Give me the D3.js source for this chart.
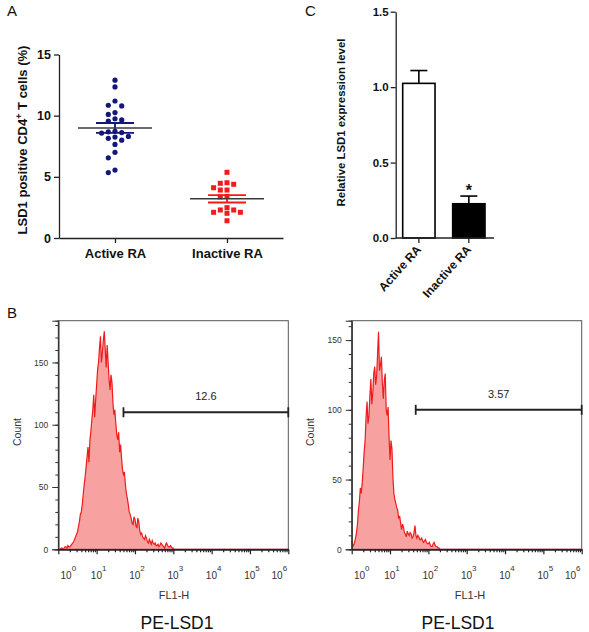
<!DOCTYPE html>
<html><head><meta charset="utf-8">
<script src="https://cdn.jsdelivr.net/npm/d3@7"></script>
<style>
body{margin:0;background:#fff}
svg{display:block}
text{font-family:"Liberation Sans",Arial,sans-serif}
</style>
</head><body>
<svg id="chart" width="589" height="632"></svg>
<script>
// ---------- Panel A data ----------
const groups = ["Active RA", "Inactive RA"];
const activeValues = [12.9, 12.35, 11.2, 10.85, 10.8, 10.25, 10.1, 9.75, 9.65, 9.55, 8.72, 8.68, 8.62, 8.58, 8.3, 8.25, 8.15, 8.0, 7.65, 7.0, 6.55, 5.55, 5.35];
const inactiveValues = [5.37, 4.52, 4.47, 4.39, 4.11, 3.92, 3.92, 3.4, 3.36, 2.48, 2.29, 2.29, 2.1, 2.1, 2.02, 1.41];
const groupMeans = [9.0, 3.2];
const groupSems = [0.4, 0.3];
const aTicks = [0, 5, 10, 15];

// ---------- Panel C data ----------
const barValues = [1.025, 0.227];
const barErrors = [0.085, 0.051];
const cTicks = [0, 0.5, 1.0, 1.5];

// ---------- Panel B data (counts per 0.025-decade channel, from 10^0) ----------
const histLeftCounts = [0,0,0,1,1,0,1,2,2,1,3,2,2,3,4,5,6,8,10,12,14,18,22,28,30,36,44,52,58,66,74,82,70,88,95,104,112,124,106,120,132,144,150,162,171,150,158,168,175,160,146,164,150,136,128,140,134,118,108,112,101,92,88,94,78,84,73,64,60,62,52,45,41,36,30,28,25,21,20,26,24,19,17,25,22,15,12,13,10,9,8,11,9,6,5,8,6,4,7,5,4,5,3,3,4,2,3,5,4,3,2,1,4,5,3,2,2,3,2,1,1,0,0,0,0,0,0,0,0];
const histRightCounts = [6,2,3,5,8,12,18,28,34,44,40,48,58,70,78,95,106,90,96,110,122,104,112,126,131,118,124,140,156,128,132,138,119,108,121,126,100,96,102,80,64,78,72,52,40,36,33,30,28,22,24,19,14,18,16,12,11,9,13,11,10,12,11,8,9,12,17,10,8,10,9,7,7,8,6,5,6,7,5,4,4,5,3,2,2,4,5,3,2,2,1,1,0];
const histLabels = ["12.6", "3.57"];
const gateStartDecade = [1.7, 1.67];
const gateLevel = [110, 100];
const countMajorTicks = [0, 50, 100, 150];
const logMajorTicks = [1e0, 1e1, 1e2, 1e3, 1e4, 1e5, 1e6];
const channelWidth = 0.025;

const svg = d3.select("#chart");

// ================= Panel A =================
const xA = d3.scalePoint().domain(groups).range([59, 283]).padding(0.5);
const yA = d3.scaleLinear().domain([0, 15]).range([238, 54.5]);

const gA = svg.append("g");
const axA = gA.append("g").attr("transform", "translate(59,0)")
  .call(d3.axisLeft(yA).tickValues(aTicks).tickSize(5).tickSizeOuter(0).tickPadding(3));
const axAx = gA.append("g").attr("transform", "translate(0,238)")
  .call(d3.axisBottom(xA).tickSize(5).tickSizeOuter(0).tickPadding(6));
[axA, axAx].forEach(a => {
  a.selectAll("path,line").attr("stroke", "#222").attr("stroke-width", 1.3);
  a.selectAll("text").attr("fill", "#111").attr("font-weight", "bold").attr("font-size", 13);
});
axA.selectAll("text").attr("font-size", 12.5);

// y title
gA.append("text").attr("transform", "translate(27,140) rotate(-90)")
  .attr("text-anchor", "middle").attr("font-weight", "bold").attr("font-size", 13).attr("fill", "#111")
  .call(t => {
    t.append("tspan").text("LSD1 positive CD4");
    t.append("tspan").attr("dy", -5).attr("font-size", 9).text("+");
    t.append("tspan").attr("dy", 5).text(" T cells (%)");
  });

function swarm(values, cx, gap, dyMin) {
  const placed = [];
  values.map(v => v).sort((a, b) => b - a).forEach(v => {
    const py = yA(v);
    for (let k = 0; k < 20; k++) {
      const offs = k === 0 ? [0] : [-k * gap, k * gap];
      let done = false;
      for (const o of offs) {
        const hit = placed.some(p => Math.abs(p.x - (cx + o)) < gap * 0.9 && Math.abs(p.y - py) < dyMin);
        if (!hit) { placed.push({x: cx + o, y: py, v}); done = true; break; }
      }
      if (done) break;
    }
  });
  return placed;
}

const dotColors = ["#14177a", "#f21a1a"];
const activePts = swarm(activeValues, xA(groups[0]), 6.7, 5.6);
const inactivePts = swarm(inactiveValues, xA(groups[1]), 6.7, 5.5);

gA.append("g").selectAll("circle").data(activePts).join("circle")
  .attr("cx", d => d.x).attr("cy", d => d.y).attr("r", 2.6).attr("fill", dotColors[0]);
gA.append("g").selectAll("rect").data(inactivePts).join("rect")
  .attr("x", d => d.x - 2.5).attr("y", d => d.y - 2.5).attr("width", 5).attr("height", 5).attr("fill", dotColors[1]);

groups.forEach((g, i) => {
  const cx = xA(g);
  const m = groupMeans[i], s = groupSems[i];
  const eg = gA.append("g");
  eg.append("line").attr("x1", cx).attr("x2", cx).attr("y1", yA(m + s)).attr("y2", yA(m - s))
    .attr("stroke", dotColors[i]).attr("stroke-width", 1.8);
  [m + s, m - s].forEach(v => eg.append("line").attr("x1", cx - 19).attr("x2", cx + 19)
    .attr("y1", yA(v)).attr("y2", yA(v)).attr("stroke", dotColors[i]).attr("stroke-width", 1.8));
  eg.append("line").attr("x1", cx - 37).attr("x2", cx + 37).attr("y1", yA(m)).attr("y2", yA(m))
    .attr("stroke", "#3a3a3a").attr("stroke-width", 1.5);
});

// ================= Panel C =================
const xC = d3.scaleBand().domain(groups).range([395.7, 492]).paddingInner(0.353).paddingOuter(0.14);
const yC = d3.scaleLinear().domain([0, 1.5]).range([238, 11.7]);
const gC = svg.append("g");

gC.selectAll("rect.bar").data(groups).join("rect").attr("class", "bar")
  .attr("x", d => xC(d)).attr("width", xC.bandwidth())
  .attr("y", (d, i) => yC(barValues[i])).attr("height", (d, i) => yC(0) - yC(barValues[i]))
  .attr("fill", (d, i) => i === 0 ? "#fff" : "#000").attr("stroke", "#000").attr("stroke-width", 1.6);

groups.forEach((g, i) => {
  const cx = xC(g) + xC.bandwidth() / 2;
  gC.append("line").attr("x1", cx).attr("x2", cx).attr("y1", yC(barValues[i])).attr("y2", yC(barValues[i] + barErrors[i]))
    .attr("stroke", "#000").attr("stroke-width", 1.6);
  gC.append("line").attr("x1", cx - 8.5).attr("x2", cx + 8.5)
    .attr("y1", yC(barValues[i] + barErrors[i])).attr("y2", yC(barValues[i] + barErrors[i]))
    .attr("stroke", "#000").attr("stroke-width", 1.6);
});
gC.append("text").attr("x", xC(groups[1]) + xC.bandwidth() / 2).attr("y", yC(barValues[1] + barErrors[1]))
  .attr("text-anchor", "middle").attr("font-size", 16).attr("font-weight", "bold").attr("fill", "#111").text("*");

const axC = gC.append("g").attr("transform", "translate(395.7,0)")
  .call(d3.axisLeft(yC).tickValues(cTicks).tickFormat(d3.format(".1f")).tickSize(5).tickSizeOuter(0).tickPadding(2));
const axCx = gC.append("g").attr("transform", "translate(0,238)")
  .call(d3.axisBottom(xC).tickSize(5).tickSizeOuter(0));
axCx.select(".domain").attr("d", "M395.7,0H494");
[axC, axCx].forEach(a => {
  a.selectAll("path,line").attr("stroke", "#222").attr("stroke-width", 1.3);
  a.selectAll("text").attr("fill", "#111").attr("font-weight", "bold").attr("font-size", 11.5);
});
axCx.selectAll(".tick text").attr("font-size", 12).attr("text-anchor", "end").attr("dy", 0).attr("y", 0)
  .attr("transform", "translate(3,12) rotate(-48)");

gC.append("text").attr("transform", "translate(345,122.5) rotate(-90)")
  .attr("text-anchor", "middle").attr("font-weight", "bold").attr("font-size", 11.4).attr("fill", "#111")
  .text("Relative LSD1 expression level");

// ================= Panel B =================
const panels = [
  {x0: 58.3, x1: 288.3, ymax: 183.5, counts: histLeftCounts, countX: 21, fl: 174, pe: 177},
  {x0: 351.7, x1: 581.7, ymax: 163.9, counts: histRightCounts, countX: 314, fl: 470, pe: 458}
];
const yTop = 320.7, yBase = 549.3;
const minorLog = [];
for (let k = 0; k < 6; k++) for (let m = 2; m <= 9; m++) minorLog.push(m * Math.pow(10, k));

panels.forEach((p, i) => {
  const g = svg.append("g");
  const xH = d3.scaleLog().domain([1, 1e6]).range([p.x0, p.x1]);
  const yH = d3.scaleLinear().domain([0, p.ymax]).range([yBase, yTop]);
  const pts = p.counts.map((c, j) => ({x: Math.pow(10, j * channelWidth), c}));
  pts.push({x: 1e6, c: 0});

  g.append("path").datum(pts)
    .attr("d", d3.area().x(d => xH(d.x)).y0(yH(0)).y1(d => yH(d.c)))
    .attr("fill", "#f7a1a1");
  g.append("path").datum(pts)
    .attr("d", d3.line().x(d => xH(d.x)).y(d => yH(d.c)))
    .attr("fill", "none").attr("stroke", "#ee1c1c").attr("stroke-width", 1.2);

  // frame
  g.append("rect").attr("x", p.x0).attr("y", yTop).attr("width", p.x1 - p.x0).attr("height", yBase - yTop)
    .attr("fill", "none").attr("stroke", "#555").attr("stroke-width", 1);

  // y axis
  const yMinor = g.append("g").attr("transform", `translate(${p.x0},0)`)
    .call(d3.axisLeft(yH).tickValues(d3.range(0, p.ymax, 10)).tickSize(3).tickFormat(""));
  const yMajor = g.append("g").attr("transform", `translate(${p.x0},0)`)
    .call(d3.axisLeft(yH).tickValues(countMajorTicks).tickSize(6).tickPadding(4));
  [yMinor, yMajor].forEach(a => {
    a.select(".domain").attr("stroke", "#333");
    a.selectAll("line").attr("stroke", "#333");
    a.selectAll("text").attr("font-size", 8.5).attr("fill", "#333");
  });

  // x axis
  const xMinor = g.append("g").attr("transform", `translate(0,${yBase})`)
    .call(d3.axisBottom(xH).tickValues(minorLog).tickSize(3).tickSizeOuter(0).tickFormat(""));
  const xMajor = g.append("g").attr("transform", `translate(0,${yBase})`)
    .call(d3.axisBottom(xH).tickValues(logMajorTicks).tickSize(5).tickSizeOuter(0).tickFormat(""));
  [xMinor, xMajor].forEach(a => {
    a.selectAll("path,line").attr("stroke", "#222").attr("stroke-width", 1.2);
  });
  logMajorTicks.forEach((t, j) => {
    let lx = xH(t) + 2;
    if (j === 0) lx = xH(t) + 10;
    if (j === logMajorTicks.length - 1) lx = xH(t) - 9;
    const tx = g.append("text").attr("x", lx).attr("y", yBase + 30).attr("text-anchor", "middle")
      .attr("font-size", 10).attr("fill", "#333");
    tx.append("tspan").text("10");
    tx.append("tspan").attr("dy", -8).attr("font-size", 8).text(String(j));
  });

  // gate
  const gy = yH(gateLevel[i]);
  const gx0 = xH(Math.pow(10, gateStartDecade[i])), gx1 = xH(1e6);
  g.append("line").attr("x1", gx0).attr("x2", gx1).attr("y1", gy).attr("y2", gy).attr("stroke", "#222").attr("stroke-width", 2);
  [gx0, gx1].forEach(x => g.append("line").attr("x1", x).attr("x2", x).attr("y1", gy - 5).attr("y2", gy + 5)
    .attr("stroke", "#222").attr("stroke-width", 1.8));
  g.append("text").attr("x", (gx0 + gx1) / 2).attr("y", gy - 12).attr("text-anchor", "middle")
    .attr("font-size", 11).attr("fill", "#222").text(histLabels[i]);

  g.append("text").attr("transform", `translate(${p.countX},432) rotate(-90)`).attr("text-anchor", "middle")
    .attr("font-size", 10.5).attr("fill", "#333").text("Count");
  g.append("text").attr("x", p.fl).attr("y", 599).attr("text-anchor", "middle")
    .attr("font-size", 11).attr("fill", "#333").text("FL1-H");
  g.append("text").attr("x", p.pe).attr("y", 629).attr("text-anchor", "middle")
    .attr("font-size", 17.5).attr("fill", "#111").text("PE-LSD1");
});

// panel letters
[["A", 7, 16], ["C", 305, 16], ["B", 7, 318]].forEach(([t, x, y]) =>
  svg.append("text").attr("x", x).attr("y", y).attr("font-size", 15).attr("fill", "#111").text(t));
</script>
</body></html>
